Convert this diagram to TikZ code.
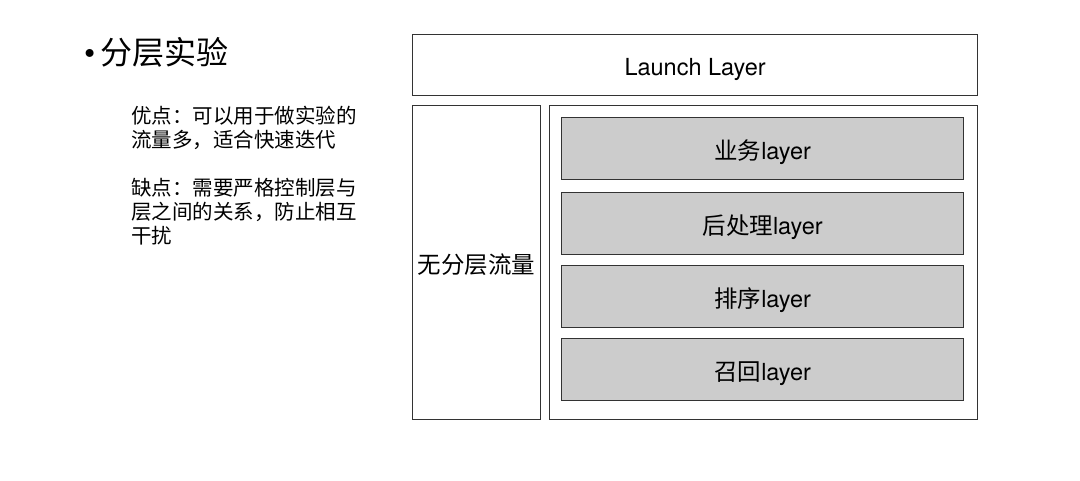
\documentclass[tikz,border=0pt]{standalone}
\usepackage{fontspec}
\setmainfont{TeX Gyre Heros}
\newfontfamily\cjk{Noto Sans CJK SC}
\begin{document}
\begin{tikzpicture}[x=1pt,y=-1pt,
  caixa/.style={draw=black!80,line width=1.3pt,inner sep=0pt,anchor=north west,
    font=\fontsize{23.5}{23.5}\selectfont,text height=25.5pt,text depth=4.7pt},
  camada/.style={caixa,fill=black!20}]
\useasboundingbox (0,0) rectangle (1080,481);

% título
\node[anchor=west,inner sep=0pt,font=\fontsize{32}{32}\selectfont] (titulo) at (84,52) {\textbullet\,{\cjk 分层实验}};

% vantagens e desvantagens
\node[anchor=north west,inner sep=0pt,align=left,font=\cjk\fontsize{20.5}{24}\selectfont] (texto) at (131,106)
  {优点：可以用于做实验的\\流量多，适合快速迭代\\[24pt]缺点：需要严格控制层与\\层之间的关系，防止相互\\干扰};

% camada de lançamento
\node[caixa,minimum width=565,minimum height=61] (launch) at (412,34) {Launch Layer};

% sem camadas
\node[caixa,minimum width=128,minimum height=314] (semcamada) at (412,105) {\cjk 无分层流量};

% camadas
\node[caixa,minimum width=428,minimum height=314] (camadas) at (549,105) {};
\foreach \i/\y/\rot in {1/117/业务, 2/192/后处理, 3/265/排序, 4/338/召回} {
  \node[camada,minimum width=402,minimum height=62] (camada\i) at (561,\y) {{\cjk \rot}layer};
}

\end{tikzpicture}
\end{document}
